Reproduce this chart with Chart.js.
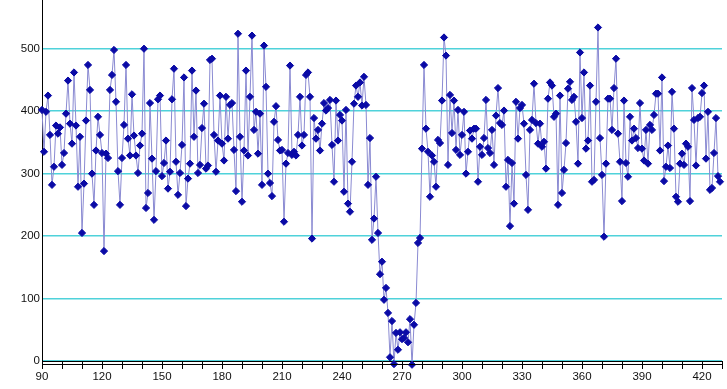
<!DOCTYPE html>
<html>
<head>
<meta charset="utf-8">
<script src="https://cdn.jsdelivr.net/npm/chart.js@4"></script>
<style>
    body { margin: 0; background: #fff; }
    canvas { display: block; }
</style>
</head>
<body>
<canvas id="seriesChart" width="727" height="389"></canvas>
<script>
const X_START = 90;
const X_TICKS = [90, 120, 150, 180, 210, 240, 270, 300, 330, 360, 390, 420];
const Y_TICKS = [0, 100, 200, 300, 400, 500];

// one reading per x step, starting at X_START
const VALUES = [
    402, 335, 399, 425, 362, 282, 311, 377, 364, 374,
    314, 333, 396, 449, 380, 348, 462, 377, 279, 359,
    205, 284, 385, 474, 434, 300, 250, 337, 391, 362,
    333, 176, 332, 325, 434, 458, 498, 415, 304, 250,
    325, 378, 474, 356, 329, 427, 361, 329, 301, 345,
    364, 500, 245, 269, 413, 324, 226, 304, 419, 425,
    296, 317, 353, 276, 303, 419, 468, 319, 266, 301,
    346, 454, 248, 292, 316, 465, 359, 433, 301, 314,
    373, 412, 308, 313, 482, 484, 362, 303, 353, 425,
    348, 321, 423, 356, 410, 413, 338, 272, 524, 359,
    255, 337, 465, 329, 423, 521, 370, 399, 332, 396,
    282, 505, 439, 300, 285, 264, 383, 408, 354, 337,
    338, 223, 316, 333, 473, 330, 335, 329, 362, 423,
    345, 362, 458, 462, 423, 196, 389, 356, 370, 337,
    380, 413, 401, 405, 418, 346, 287, 417, 353, 394,
    385, 271, 402, 252, 239, 319, 412, 441, 423, 446,
    409, 455, 410, 282, 357, 194, 228, 295, 205, 139,
    159, 98, 117, 77, 6, 64, -5, 45, 18, 46,
    35, 37, 46, 30, 67, -6, 58, 93, 189, 197,
    340, 474, 372, 335, 263, 329, 319, 279, 354, 349,
    417, 518, 489, 314, 426, 365, 417, 338, 402, 330,
    362, 399, 300, 335, 369, 356, 372, 372, 287, 343,
    330, 357, 418, 341, 333, 370, 314, 393, 437, 381,
    378, 401, 279, 322, 216, 317, 252, 415, 356, 405,
    410, 380, 298, 242, 370, 386, 444, 381, 348, 380,
    343, 351, 308, 420, 446, 441, 391, 396, 250, 425,
    269, 306, 349, 436, 447, 418, 423, 383, 316, 494,
    389, 462, 340, 353, 441, 287, 290, 415, 534, 357,
    298, 199, 316, 420, 420, 370, 437, 484, 364, 319,
    256, 417, 317, 295, 391, 353, 372, 357, 341, 413,
    340, 321, 370, 316, 378, 370, 394, 428, 428, 337,
    454, 288, 311, 345, 309, 431, 372, 263, 255, 316,
    332, 314, 348, 343, 256, 437, 386, 313, 389, 391,
    429, 441, 324, 399, 274, 277, 333, 389, 296, 287
];

const LABEL_FONT = { family: "'Liberation Sans', Arial, sans-serif", size: 11.5 };

// second rule just under the x axis, like the old chart control
const doubleAxisLine = {
    id: 'doubleAxisLine',
    afterDraw(chart) {
        const { ctx, chartArea } = chart;
        ctx.save();
        ctx.strokeStyle = '#000';
        ctx.lineWidth = 1;
        ctx.beginPath();
        ctx.moveTo(chartArea.left, chartArea.bottom + 3.5);
        ctx.lineTo(chartArea.right, chartArea.bottom + 3.5);
        ctx.stroke();
        ctx.restore();
    }
};

function noLabelPadding(scale) {
    scale.paddingTop = 0;
    scale.paddingBottom = 0;
    scale.paddingLeft = 0;
    scale.paddingRight = 0;
}

function createSeriesChart() {
    const ctx = document.getElementById('seriesChart').getContext('2d');
    const points = VALUES.map((v, i) => ({ x: X_START + i, y: v }));

    new Chart(ctx, {
        type: 'line',
        data: {
            datasets: [{
                data: points,
                borderColor: '#8a8ad2',
                borderWidth: 1,
                pointStyle: 'rectRot',
                pointRadius: 3.6,
                pointBackgroundColor: '#0a0aa6',
                pointBorderColor: '#0a0aa6',
                pointBorderWidth: 1,
                tension: 0,
                clip: false,
            }]
        },
        options: {
            responsive: false,
            animation: false,
            devicePixelRatio: 1,
            layout: { autoPadding: false, padding: { left: 0, right: 5, top: 0, bottom: 0 } },
            plugins: { legend: { display: false }, tooltip: { enabled: false } },
            scales: {
                x: {
                    type: 'linear',
                    min: 90,
                    max: 430,
                    afterFit: scale => { scale.height = 28; noLabelPadding(scale); },
                    ticks: {
                        stepSize: 10,
                        autoSkip: false,
                        maxRotation: 0,
                        padding: 1,
                        color: '#111',
                        font: LABEL_FONT,
                        callback: v => X_TICKS.includes(v) ? String(v) : '',
                    },
                    grid: { drawOnChartArea: false, drawTicks: true, tickLength: 8, color: '#000' },
                    border: { display: true, color: '#000', width: 1 },
                },
                y: {
                    min: 0,
                    max: 578,
                    afterFit: scale => { scale.width = 42; noLabelPadding(scale); },
                    afterBuildTicks: scale => { scale.ticks = Y_TICKS.map(v => ({ value: v })); },
                    ticks: { padding: 2, color: '#111', font: LABEL_FONT },
                    grid: { color: '#4fd2da', lineWidth: 1.5, drawTicks: false },
                    border: { display: true, color: '#000', width: 1 },
                }
            }
        },
        plugins: [doubleAxisLine]
    });
}

createSeriesChart();
</script>
</body>
</html>
